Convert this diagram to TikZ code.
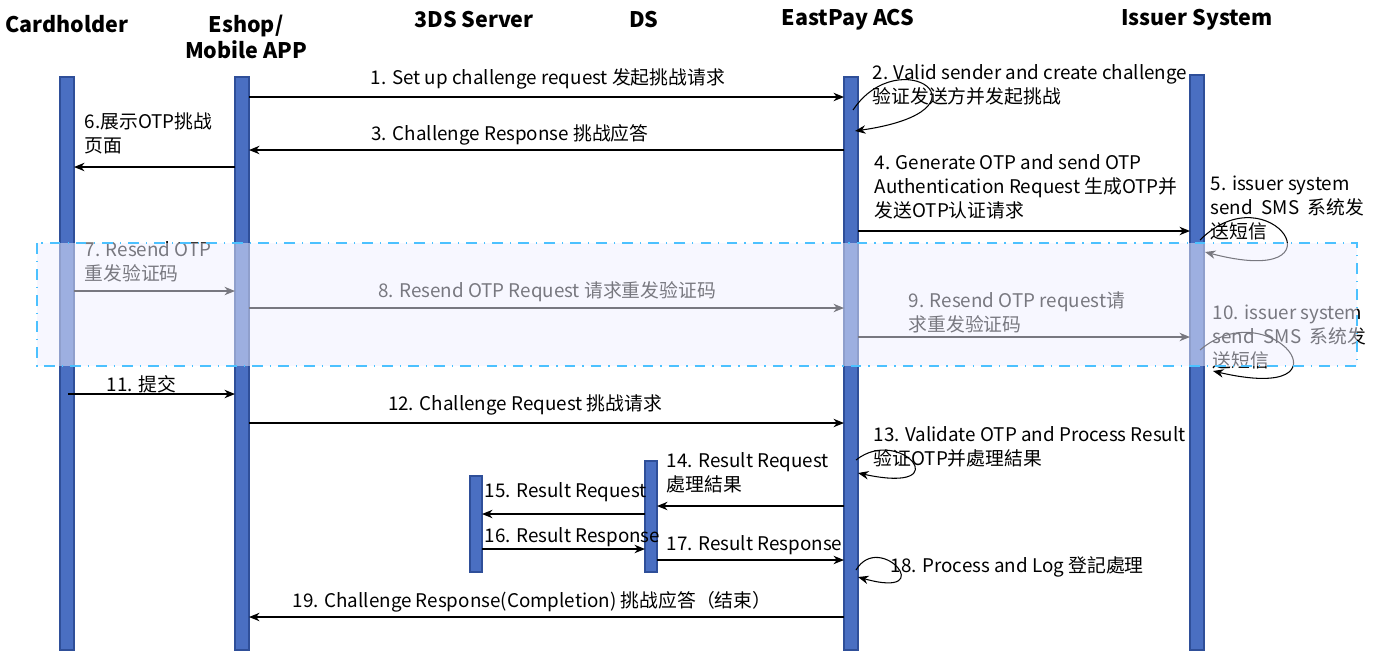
\documentclass[tikz,border=0pt]{standalone}
\usepackage{fontspec}
\setmainfont{Noto Sans CJK SC}
\usetikzlibrary{arrows.meta}
\definecolor{barblue}{HTML}{4A6FC2}
\definecolor{bardark}{HTML}{2F4F99}
\begin{document}
\begin{tikzpicture}[x=0.01cm,y=-0.01cm,
    head/.style={font=\fontsize{6.1}{7.4}\selectfont\bfseries,align=center},
    lbl/.style={font=\fontsize{5.35}{6.8}\selectfont,align=left,inner sep=0pt},
    bar/.style={fill=barblue,draw=bardark,line width=0.3pt},
    msg/.style={-{Stealth[length=3pt,width=2.4pt]},line width=0.35pt},
    loop/.style={-{Stealth[length=3pt,width=2.4pt]},line width=0.3pt}]
\useasboundingbox (0,0) rectangle (1379,666);
% headers
\node[head] (hCard) at (67,24) {Cardholder};
\node[head] (hShop) at (246,37) {Eshop/\\Mobile APP};
\node[head] (h3ds) at (474,20) {3DS Server};
\node[head] (hDs) at (644,20) {DS};
\node[head] (hAcs) at (848,20) {EastPay ACS};
\node[head] (hIss) at (1197,20) {Issuer System};
% lifelines
\draw[bar] (60,77) rectangle (74,650);
\draw[bar] (235,77) rectangle (249,650);
\draw[bar] (470,476) rectangle (482,572);
\draw[bar] (645,461) rectangle (657,572);
\draw[bar] (844,77) rectangle (858,650);
\draw[bar] (1190,75) rectangle (1204,650);
% message ends
\coordinate (s1) at (249,97);  \coordinate (t1) at (844,97);
\coordinate (s3) at (844,150); \coordinate (t3) at (249,150);
\coordinate (s6) at (235,167); \coordinate (t6) at (74,167);
\coordinate (s4) at (858,231); \coordinate (t4) at (1190,231);
\coordinate (s7) at (74,291);  \coordinate (t7) at (235,291);
\coordinate (s8) at (249,308); \coordinate (t8) at (844,308);
\coordinate (s9) at (858,337); \coordinate (t9) at (1190,337);
\coordinate (s11) at (68,394); \coordinate (t11) at (235,394);
\coordinate (s12) at (249,423); \coordinate (t12) at (844,423);
\coordinate (s14) at (844,506); \coordinate (t14) at (657,506);
\coordinate (s15) at (645,514); \coordinate (t15) at (482,514);
\coordinate (s16) at (482,549); \coordinate (t16) at (645,549);
\coordinate (s17) at (657,560); \coordinate (t17) at (844,560);
\coordinate (s19) at (844,617); \coordinate (t19) at (249,617);
\path[msg] (s1) edge (t1);
\path[msg] (s3) edge (t3);
\path[msg] (s6) edge (t6);
\path[msg] (s4) edge (t4);
\path[msg] (s7) edge (t7);
\path[msg] (s8) edge (t8);
\path[msg] (s9) edge (t9);
\path[msg] (s11) edge (t11);
\path[msg] (s12) edge (t12);
\path[msg] (s14) edge (t14);
\path[msg] (s15) edge (t15);
\path[msg] (s16) edge (t16);
\path[msg] (s17) edge (t17);
\path[msg] (s19) edge (t19);
% self loops
\coordinate (a2) at (853,110); \coordinate (b2) at (855,131);
\draw[loop] (a2) .. controls (900,40) and (1000,110) .. (b2);
\coordinate (a5) at (1200,240); \coordinate (b5) at (1205,252);
\draw[loop] (a5) .. controls (1270,170) and (1350,290) .. (b5);
\coordinate (a10) at (1200,350); \coordinate (b10) at (1213,371);
\draw[loop] (a10) .. controls (1270,290) and (1360,405) .. (b10);
\coordinate (a13) at (856,460); \coordinate (b13) at (858,473);
\draw[loop] (a13) .. controls (900,425) and (960,495) .. (b13);
\coordinate (a18) at (856,570); \coordinate (b18) at (858,577);
\draw[loop] (a18) .. controls (880,530) and (940,600) .. (b18);
% labels
\node[lbl,anchor=south] (l1) at (548,90) {1. Set up challenge request 发起挑战请求};
\node[lbl,anchor=north west] (l2) at (872,64) {2. Valid sender and create challenge\\验证发送方并发起挑战};
\node[lbl,anchor=south] (l3) at (510,146) {3. Challenge Response 挑战应答};
\node[lbl,anchor=north west] (l6) at (84,112) {6.展示OTP挑战\\页面};
\node[lbl,anchor=north west] (l4) at (874,154) {4. Generate OTP and send OTP\\Authentication Request 生成OTP并\\发送OTP认证请求};
\node[lbl,anchor=north west] (l5) at (1210,175) {5. issuer system\\send\ \ SMS\ \ 系统发\\送短信};
\node[lbl,anchor=north west] (l7) at (84,241) {7. Resend OTP\\重发验证码};
\node[lbl,anchor=south] (l8) at (547,302) {8. Resend OTP Request 请求重发验证码};
\node[lbl,anchor=north west] (l9) at (908,291) {9. Resend OTP request请\\求重发验证码};
\node[lbl,anchor=north west] (l10) at (1212,304) {10. issuer system\\send\ \ SMS\ \ 系统发\\送短信};
\node[lbl,anchor=south west] (l11) at (106,394) {11. 提交};
\node[lbl,anchor=south] (l12) at (525,416) {12. Challenge Request 挑战请求};
\node[lbl,anchor=north west] (l13) at (873,426) {13. Validate OTP and Process Result\\验证OTP并處理結果};
\node[lbl,anchor=north west] (l14) at (666,452) {14. Result Request\\處理結果};
\node[lbl,anchor=south west] (l15) at (484,502) {15. Result Request};
\node[lbl,anchor=south west] (l16) at (484,547) {16. Result Response};
\node[lbl,anchor=south west] (l17) at (666,555) {17. Result Response};
\node[lbl,anchor=west] (l18) at (890,567) {18. Process and Log 登記處理};
\node[lbl,anchor=south west] (l19) at (292,613) {19. Challenge Response(Completion) 挑战应答（结束）};
% resend band, drawn over everything
\fill[blue!6,opacity=0.5] (37,243) rectangle (1357,366);
\draw[blue!35!cyan!70,dash dot,line width=0.4pt] (37,243) rectangle (1357,366);
\end{tikzpicture}
\end{document}
